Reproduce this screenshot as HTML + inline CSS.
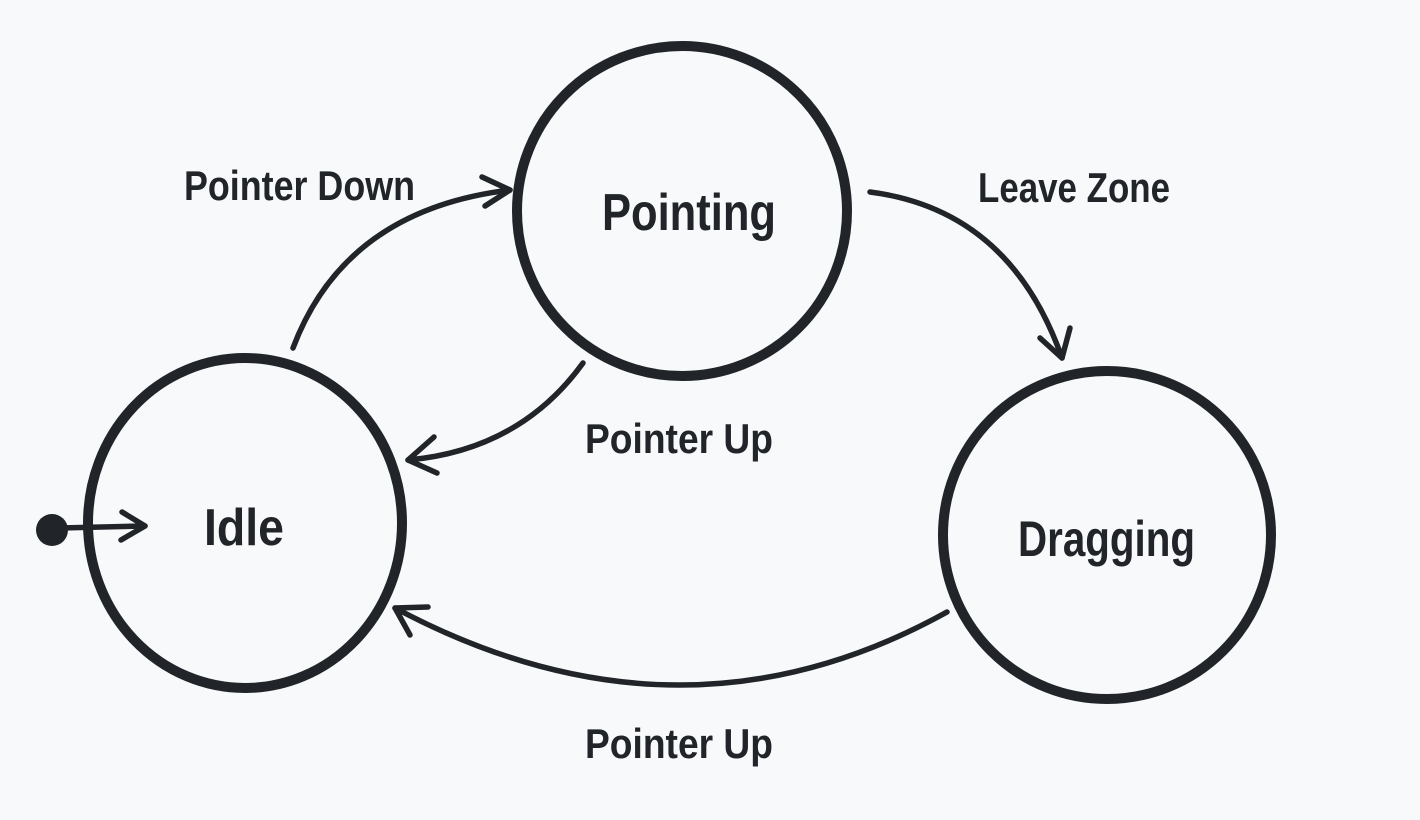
<!DOCTYPE html>
<html><head><meta charset="utf-8"><style>
html,body{margin:0;padding:0;background:#f8f9fa;}
svg{display:block}
text{font-family:"Liberation Sans Narrow","Liberation Sans",sans-serif;font-weight:bold;fill:#212529}
</style></head><body>
<svg width="1420" height="820" viewBox="0 0 1420 820">
<g fill="none" stroke="#212529" stroke-linecap="round" stroke-linejoin="round">
<ellipse cx="245" cy="523" rx="157" ry="165" stroke-width="10"/>
<circle cx="682" cy="211" r="165" stroke-width="10"/>
<circle cx="1107" cy="535" r="164" stroke-width="10"/>
<g stroke-width="5.5">
<path d="M293 348 Q345 210 510 190"/>
<path d="M482 177 L510 190 L485 206"/>
<path d="M870 192 Q1010 210 1062 358"/>
<path d="M1070 328 L1062 358 L1040 338"/>
<path d="M583 363 Q520 450 408 460"/>
<path d="M434 437 L408 460 L437 473"/>
<path d="M947 612 Q680 760 395 608"/>
<path d="M428 607 L395 608 L410 635"/>
<path d="M60 528 L145 526"/>
<path d="M122 512 L145 526 L121 540"/>
</g>
</g>
<circle cx="52" cy="530" r="16" fill="#212529"/>
<text x="602" y="230" font-size="52" textLength="174" lengthAdjust="spacingAndGlyphs">Pointing</text>
<text x="204" y="545" font-size="52" textLength="80" lengthAdjust="spacingAndGlyphs">Idle</text>
<text x="1018" y="556" font-size="50" textLength="177" lengthAdjust="spacingAndGlyphs">Dragging</text>
<text x="184" y="200" font-size="42" textLength="231" lengthAdjust="spacingAndGlyphs">Pointer Down</text>
<text x="978" y="202" font-size="42" textLength="192" lengthAdjust="spacingAndGlyphs">Leave Zone</text>
<text x="585" y="453" font-size="42" textLength="188" lengthAdjust="spacingAndGlyphs">Pointer Up</text>
<text x="585" y="758" font-size="42" textLength="188" lengthAdjust="spacingAndGlyphs">Pointer Up</text>
</svg>
</body></html>
